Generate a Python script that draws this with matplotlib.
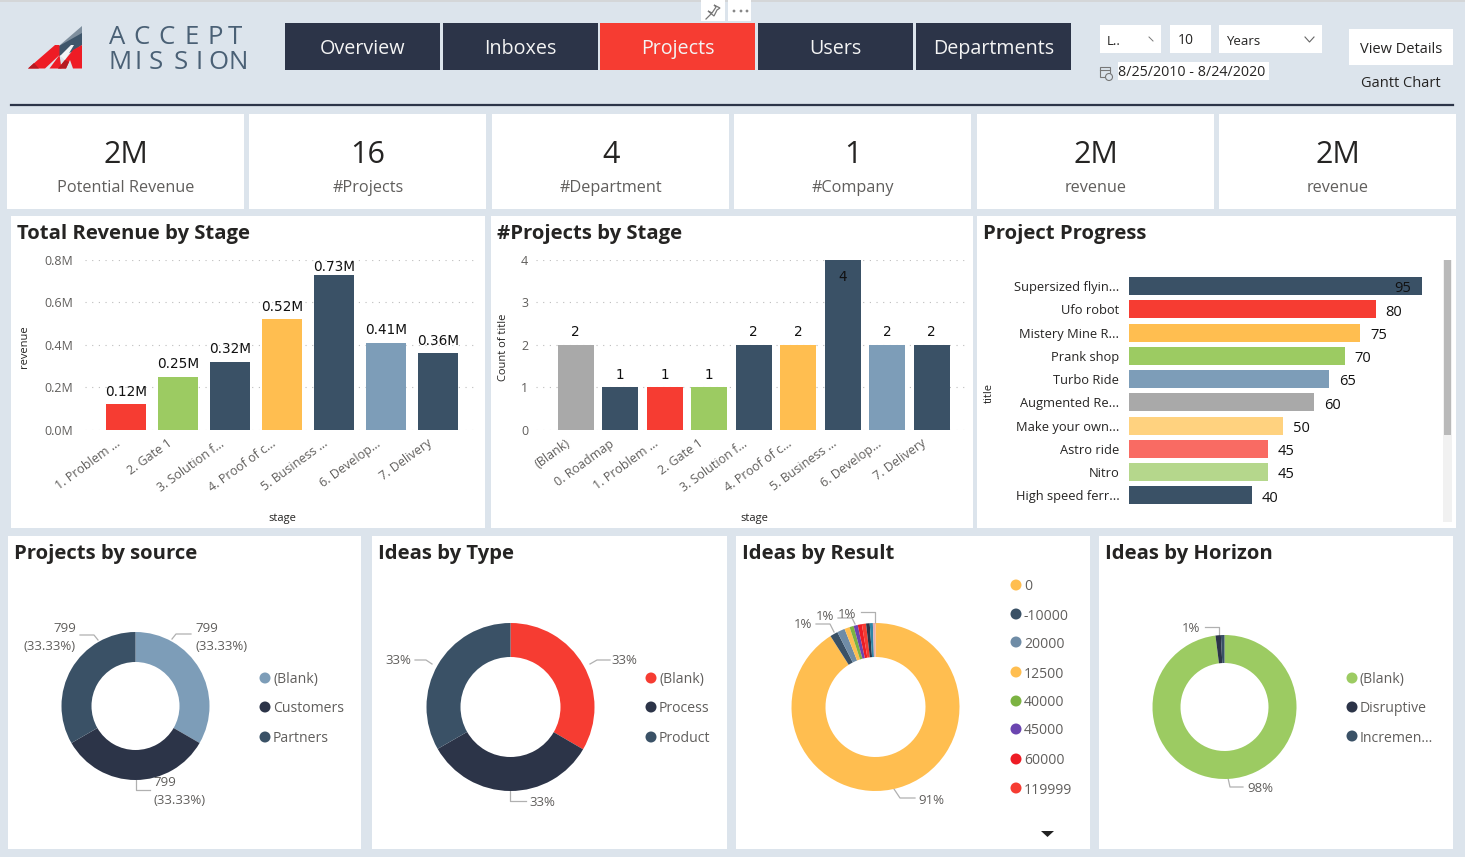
import matplotlib
matplotlib.use("Agg")
from matplotlib import pyplot as plt
from matplotlib.patches import Rectangle, Polygon, Circle
from matplotlib.ticker import FuncFormatter
from matplotlib.transforms import ScaledTranslation

W, H = 1465, 857
plt.rcParams['font.family'] = ['Open Sans', 'DejaVu Sans']

BG = '#dce4ec'
NAVY = '#2c3448'
SLATE = '#3a5166'
STEEL = '#7d9db8'
RED = '#f63c32'
YELLOW = '#ffbe50'
GREEN = '#9ccb62'
GREY = '#a9a9a9'
TXT = '#252423'
SOFT = '#605e5c'

nav_labels = ['Overview', 'Inboxes', 'Projects', 'Users', 'Departments']
kpi_values = ['2M', '16', '4', '1', '2M', '2M']
kpi_labels = ['Potential Revenue', '#Projects', '#Department', '#Company', 'revenue', 'revenue']

rev_stages = ['1. Problem ...', '2. Gate 1', '3. Solution f...', '4. Proof of c...', '5. Business ...', '6. Develop...', '7. Delivery']
rev_values = [0.12, 0.25, 0.32, 0.52, 0.73, 0.41, 0.36]
rev_colors = [RED, GREEN, SLATE, YELLOW, SLATE, STEEL, SLATE]

proj_stages = ['(Blank)', '0. Roadmap', '1. Problem ...', '2. Gate 1', '3. Solution f...', '4. Proof of c...', '5. Business ...', '6. Develop...', '7. Delivery']
proj_counts = [2, 1, 1, 1, 2, 2, 4, 2, 2]
proj_colors = [GREY, SLATE, RED, GREEN, SLATE, YELLOW, SLATE, STEEL, SLATE]

progress_titles = ['Supersized flyin...', 'Ufo robot', 'Mistery Mine R...', 'Prank shop', 'Turbo Ride', 'Augmented Re...', 'Make your own...', 'Astro ride', 'Nitro', 'High speed ferr...']
progress_values = [95, 80, 75, 70, 65, 60, 50, 45, 45, 40]
progress_colors = [SLATE, RED, YELLOW, GREEN, STEEL, GREY, '#ffd27f', '#f96b63', '#b5d78c', SLATE]

source_names = ['(Blank)', 'Customers', 'Partners']
source_values = [799, 799, 799]
source_colors = [STEEL, NAVY, SLATE]

type_names = ['(Blank)', 'Process', 'Product']
type_values = [33.4, 33.3, 33.3]
type_colors = [RED, NAVY, SLATE]

result_names = ['0', '-10000', '20000', '12500', '40000', '45000', '60000', '119999']
result_legend_colors = [YELLOW, SLATE, '#6f8ca6', YELLOW, '#7cb342', '#6b45b0', '#ee1c25', RED]
result_values = [91, 1.5, 1.5, 1, 0.8, 0.8, 0.8, 0.8, 0.7, 0.6, 0.5]
result_colors = [YELLOW, SLATE, '#6f8ca6', YELLOW, '#7cb342', '#6b45b0', '#ee1c25', RED, NAVY, '#2f86a6', '#e8aeb0']

horizon_names = ['(Blank)', 'Disruptive', 'Incremen...']
horizon_values = [98, 1.2, 0.8]
horizon_colors = [GREEN, NAVY, SLATE]

fig = plt.figure(figsize=(W / 100, H / 100), dpi=100, facecolor=BG)
base = fig.add_axes([0, 0, 1, 1])
base.set_xlim(0, W)
base.set_ylim(H, 0)
base.axis('off')


def px_axes(l, t, r, b):
    return fig.add_axes([l / W, 1 - b / H, (r - l) / W, (b - t) / H], facecolor='none')


def box(l, t, r, b, color='white', z=1):
    base.add_patch(Rectangle((l, t), r - l, b - t, facecolor=color, edgecolor='none', zorder=z))


def label(x, y, s, size=10, color=TXT, ha='center', **kw):
    # open sans sits a bit high with va=center
    base.text(x, y + 2, s, fontsize=size, color=color, ha=ha, va='center', zorder=5, **kw)


def shape(points, color, z=2):
    base.add_patch(Polygon(points, facecolor=color, edgecolor='none', zorder=z))


# header
box(0, 0, W, 2, '#d4d6d8')
shape([(60, 45), (82, 26), (82, 36), (60, 52)], '#7f8f9e')
shape([(59, 46), (82, 33), (82, 45), (72, 52), (59, 56)], '#3f566b')
shape([(60, 56), (71, 45), (74, 45), (65, 60)], '#f2f5f7')
shape([(28, 68.5), (55, 45), (59.5, 45), (59.5, 55), (45, 68.5)], '#ee1c25')
shape([(49.5, 68.5), (59.5, 55), (61.5, 68.5)], '#ee1c25')
shape([(58, 68.5), (65, 60), (73, 50), (82, 45), (82, 68.5), (73, 68.5), (70, 60), (66, 68.5)], '#ee1c25')
shape([(58, 68.5), (65, 60), (69, 62), (66, 68.5)], '#b51a22', 3)
shape([(28, 68.5), (34, 63), (39, 68.5)], '#b51a22', 3)

accept_x = [117.5, 141.7, 166.7, 191.7, 215, 235]
mission_x = [120.5, 138.3, 155.8, 180.8, 199, 218.3, 238.5]
for x, c in zip(accept_x, 'ACCEPT'):
    label(x, 35, c, 18.5, '#4a6075')
for x, c in zip(mission_x, 'MISSION'):
    label(x, 60, c, 18.5, '#4a6075')

nav_left = [285, 443, 600, 758, 916]
nav_right = [440, 598, 755, 913, 1071]
for l, r, s in zip(nav_left, nav_right, nav_labels):
    box(l, 23, r, 70, RED if s == 'Projects' else NAVY)
    label((l + r) / 2, 47, s, 14.2, '#f4f4f4')

box(701, 0, 725, 21, 'white')
box(728, 0, 751, 21, 'white')
base.plot([706, 711], [19, 14], color='#777777', lw=0.9, zorder=5)
base.add_patch(Polygon([(708, 11), (712, 13), (716, 7), (714, 5), (720, 8), (717, 10), (714, 16)], facecolor='none', edgecolor='#777777', lw=0.9, zorder=5))
for x in [734, 741, 747]:
    base.add_patch(Circle((x, 11), 1.4, facecolor='#888888', edgecolor='none', zorder=5))

box(1100, 25, 1161, 53)
box(1170, 25, 1211, 53)
box(1219, 25, 1322, 53)
label(1107, 39, 'L..', 9.5, ha='left')
label(1186, 38.5, '10', 10)
label(1226, 39, 'Years', 9.5, ha='left')
base.plot([1149, 1153], [37, 41], color='#777777', lw=0.7, zorder=5)
base.plot([1305, 1309.5, 1314], [37, 42, 37], color='#666666', lw=0.8, zorder=5)
box(1118, 62, 1269, 80)
label(1118, 70, '8/25/2010 - 8/24/2020', 10.3, ha='left')
base.add_patch(Rectangle((1100, 67), 10, 10, facecolor='none', edgecolor='#777777', lw=0.8, zorder=5))
base.plot([1100, 1110], [70, 70], color='#777777', lw=0.8, zorder=5)
base.add_patch(Circle((1109, 77), 3.5, facecolor=BG, edgecolor='#777777', lw=0.8, zorder=6))
box(1349, 29, 1453, 65)
label(1401, 47, 'View Details', 10.5)
label(1401, 81, 'Gantt Chart', 10.5)
base.plot([11, 1453], [105, 105], color=NAVY, lw=1.6, zorder=2)

# kpi cards
kpi_left = [7, 249, 492, 734, 977, 1219]
for l, v, s in zip(kpi_left, kpi_values, kpi_labels):
    box(l, 114, l + 237, 209)
    label(l + 119, 153, v, 22)
    label(l + 119, 186, s, 11.7, SOFT)

# chart cards
for l, t, r, b, s in [(11, 216, 485, 528, 'Total Revenue by Stage'), (491, 216, 973, 528, '#Projects by Stage'),
                      (977, 216, 1456, 528, 'Project Progress'), (8, 536, 361, 849, 'Projects by source'),
                      (372, 536, 727, 849, 'Ideas by Type'), (736, 536, 1090, 849, 'Ideas by Result'),
                      (1099, 536, 1453, 849, 'Ideas by Horizon')]:
    box(l, t, r, b)
    label(l + 6, t + 16, s, 14.6, TXT, ha='left', fontweight='bold')


def column_chart(rect, names, values, colors, ymax, yticks, fmt, width, bar_labels, center0, step, ypad):
    l, t, r, b = rect
    ax = px_axes(l, t, r, b)
    ax.bar(range(len(values)), values, width=width, color=colors, zorder=3)
    ax.set_xlim((l - center0) / step, (r - center0) / step)
    ax.set_ylim(0, ymax)
    ax.set_yticks(yticks)
    ax.yaxis.set_major_formatter(FuncFormatter(fmt))
    ax.set_xticks(range(len(values)))
    ax.set_xticklabels(names, rotation=36, ha='right', rotation_mode='anchor', fontsize=9, color=SOFT)
    ax.tick_params(axis='x', length=0, pad=5, colors=SOFT)
    ax.tick_params(axis='y', length=0, pad=ypad, labelsize=9, colors=SOFT)
    shift = ScaledTranslation(-11 / 100, 0, fig.dpi_scale_trans)
    for t_lab in ax.get_xticklabels():
        t_lab.set_transform(t_lab.get_transform() + shift)
    ax.grid(axis='y', color='#bdbdbd', ls=(0, (1, 5)), lw=0.8)
    for s in ax.spines.values():
        s.set_visible(False)
    for i, (v, s) in enumerate(zip(values, bar_labels)):
        if v == ymax:
            ax.text(i, v - 0.24, s, ha='center', va='top', fontsize=9.8, family='DejaVu Sans', color='#111111', zorder=4)
        else:
            # the tallest label gets pushed down towards the bar
            off = 0.5 if v > 0.9 * ymax else 4
            ax.annotate(s, (i, v), xytext=(0, off), textcoords='offset points', ha='center', va='bottom',
                        fontsize=9.8, family='DejaVu Sans', color='#111111', zorder=4)
    return ax


column_chart((85, 260, 478, 430), rev_stages, rev_values, rev_colors, 0.8, [0, 0.2, 0.4, 0.6, 0.8],
             lambda v, p: f'{v:.1f}M', 40 / 52, [f'{v:.2f}M' for v in rev_values], 126, 52, 8.6)
column_chart((536, 260, 968, 430), proj_stages, proj_counts, proj_colors, 4, [0, 1, 2, 3, 4],
             lambda v, p: f'{v:.0f}', 36 / 44.5, [str(v) for v in proj_counts], 575.5, 44.5, 5.7)
label(24, 345, 'revenue', 8, TXT, rotation=90)
label(282, 517, 'stage', 8, TXT)
label(504, 345, 'Count of title', 8, TXT, rotation=90)
label(754, 517, 'stage', 8, TXT)

# project progress
ax = px_axes(1129, 274.5, 1440, 507)
rows = list(range(len(progress_values)))
ax.barh(rows, progress_values, height=18 / 23.2, color=progress_colors)
ax.set_xlim(0, 311 / 3.084)
ax.set_ylim(9.5, -0.5)
ax.set_yticks(rows)
ax.set_yticklabels(progress_titles, fontsize=9.25, color=TXT)
ax.set_xticks([])
ax.tick_params(length=0, pad=7)
for s in ax.spines.values():
    s.set_visible(False)
for i, v in enumerate(progress_values):
    if i == 0:
        ax.annotate(str(v), (v, i), xytext=(-7.5, -2), textcoords='offset points', ha='right', va='center', fontsize=10.5, color='#111111')
    else:
        ax.annotate(str(v), (v, i), xytext=(7, -2), textcoords='offset points', ha='left', va='center', fontsize=10.5, color='#111111')
label(989, 391, 'title', 8, TXT, rotation=90)
box(1443, 260, 1452, 522, '#f1f1f1', 2)
box(1444, 260, 1451, 435, '#b9b9b9', 3)


def donut(cx, cy, R, r, values, colors):
    ax = px_axes(cx - R, cy - R, cx + R, cy + R)
    ax.pie(values, colors=colors, startangle=90, counterclock=False, radius=1,
           wedgeprops={'width': 1 - r / R, 'linewidth': 0})
    ax.set_xlim(-1, 1)
    ax.set_ylim(-1, 1)
    return ax


def legend(x, ys, names, colors):
    for y, s, c in zip(ys, names, colors):
        base.add_patch(Circle((x, y), 5.5, facecolor=c, edgecolor='none', zorder=5))
        label(x + 8, y, s, 10.1, SOFT, ha='left')


def callout(points, x, y, s):
    xs, ys = zip(*points)
    base.plot(xs, ys, color='#b0b0b0', lw=0.9, zorder=4)
    label(x, y - 2, s, 9.5, SOFT)


donut(135.5, 706, 74, 44, source_values, source_colors)
legend(265, [678, 707, 737], source_names, source_colors)
callout([(172, 639), (176, 634), (191, 634)], 207, 628, '799')
label(222, 645, '(33.33%)', 9.5, SOFT)
callout([(98, 640), (94, 635), (80, 635)], 65, 628, '799')
label(50, 645, '(33.33%)', 9.5, SOFT)
callout([(136, 780), (136, 790), (150, 790)], 165, 783, '799')
label(180, 799, '(33.33%)', 9.5, SOFT)
donut(510.5, 707, 84, 50, type_values, type_colors)
legend(651, [678, 707, 737], type_names, type_colors)
callout([(590, 664), (597, 660), (610, 660)], 624, 661, '33%')
callout([(432, 664), (426, 660), (415, 660)], 398, 661, '33%')
callout([(510, 791), (510, 801), (526, 801)], 542, 803, '33%')
donut(875.5, 707, 84, 50, result_values, result_colors)
legend(1016, [585, 614, 642, 672, 701, 729, 759, 788], result_names, result_legend_colors)
callout([(834, 632), (830, 624), (816, 624)], 803, 625, '1%')
callout([(855, 624), (852, 618), (838, 618)], 825, 617, '1%')
callout([(875, 623), (875, 612), (861, 612)], 847, 614, '1%')
callout([(894, 789), (900, 798), (915, 798)], 931, 800, '91%')
shape([(1041, 831), (1054, 831), (1047.5, 837)], '#222222', 5)
donut(1224.5, 707, 72, 44, horizon_values, horizon_colors)
legend(1352, [678, 707, 736], horizon_names, horizon_colors)
callout([(1219, 636), (1219, 627), (1205, 627)], 1191, 629, '1%')
callout([(1228, 778), (1230, 787), (1243, 787)], 1260, 789, '98%')

fig.savefig('out.png', dpi=100, facecolor=BG)
